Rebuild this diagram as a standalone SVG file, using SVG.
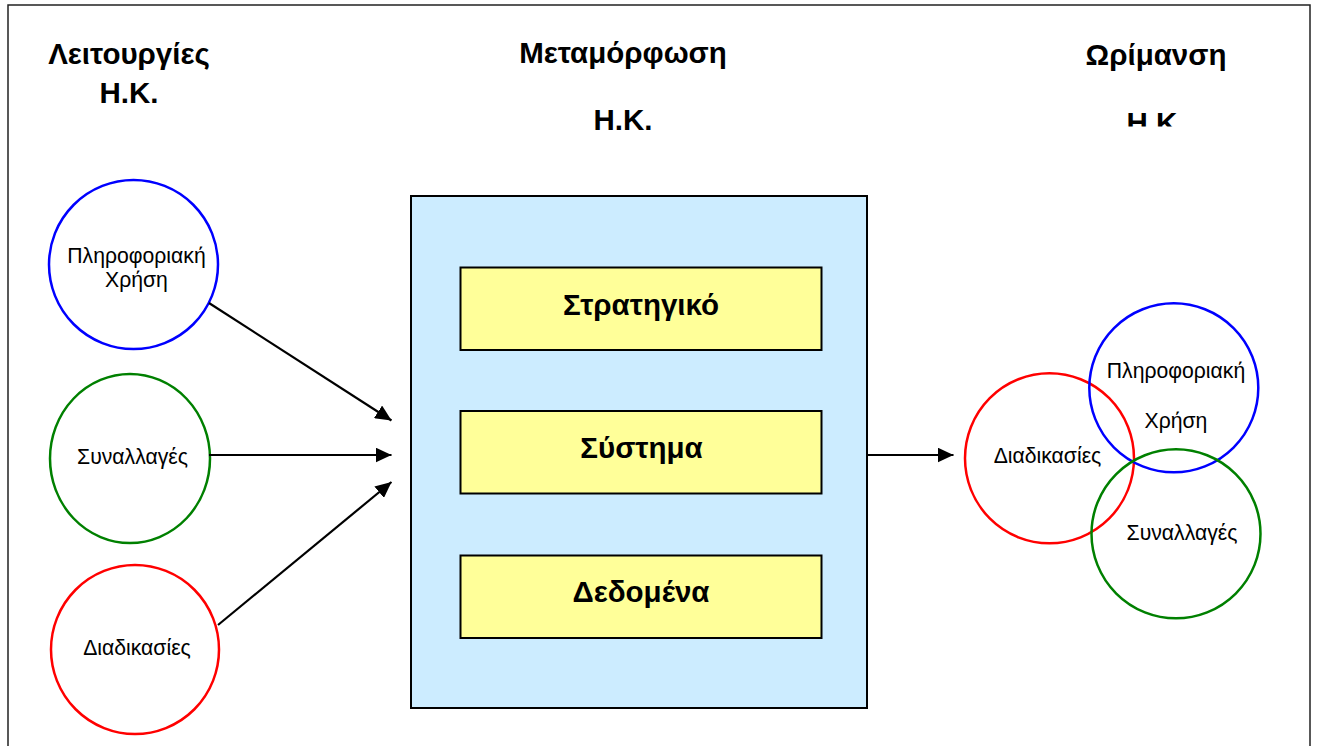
<svg xmlns="http://www.w3.org/2000/svg" width="1318" height="746" viewBox="0 0 1318 746">
<defs>
<style>
.title{font-family:"Liberation Sans",Arial,sans-serif;font-weight:bold;font-size:29.5px;fill:#000;text-anchor:middle}
.box{font-family:"Liberation Sans",Arial,sans-serif;font-weight:bold;font-size:29.5px;fill:#000;text-anchor:middle}
.lbl{font-family:"Liberation Sans",Arial,sans-serif;font-size:21.2px;fill:#000;text-anchor:middle}
.c{fill:none;stroke-width:2.5}
.blue{stroke:#0000FF}.green{stroke:#008000}.red{stroke:#FF0000}
.yel{fill:#FFFF99;stroke:#000;stroke-width:2}
.conn{stroke:#000;stroke-width:2.2;fill:none;marker-end:url(#ah)}
</style>
<marker id="ah" viewBox="0 0 16 15" refX="16" refY="7.5" markerWidth="16" markerHeight="15" markerUnits="userSpaceOnUse" orient="auto">
<path d="M0,0 L16,7.5 L0,15 Z" fill="#000"/>
</marker>
<clipPath id="clipHK"><rect x="1100" y="100" width="120" height="26.5"/></clipPath>
</defs>
<rect x="0" y="0" width="1318" height="746" fill="#FFFFFF"/>
<rect x="8" y="5" width="1302" height="760" fill="none" stroke="#222" stroke-width="1.5"/>

<g id="headings">
<text class="title" x="129" y="64">Λειτουργίες</text>
<text class="title" x="129" y="103">Η.Κ.</text>
<text class="title" x="623" y="63">Μεταμόρφωση</text>
<text class="title" x="623" y="130">Η.Κ.</text>
<text class="title" x="1156" y="65">Ωρίμανση</text>
<text class="title" x="1156" y="133" clip-path="url(#clipHK)">Η.Κ.</text>
</g>

<g id="left-info">
<ellipse class="c blue" cx="133.5" cy="264.5" rx="84.5" ry="84.5"/>
<text class="lbl" x="136.5" y="262.5">Πληροφοριακή</text>
<text class="lbl" x="136.5" y="286.5">Χρήση</text>
</g>
<g id="left-trans">
<ellipse class="c green" cx="130" cy="458.5" rx="80" ry="84.5"/>
<text class="lbl" x="132.5" y="463.5">Συναλλαγές</text>
</g>
<g id="left-proc">
<ellipse class="c red" cx="135" cy="649.5" rx="84" ry="84.5"/>
<text class="lbl" x="137" y="655">Διαδικασίες</text>
</g>

<g id="transform">
<rect x="411" y="196" width="456" height="512" fill="#CCECFF" stroke="#000" stroke-width="2"/>
</g>
<g id="strategic">
<rect class="yel" x="460.5" y="267.5" width="361" height="82.5"/>
<text class="box" x="641" y="315">Στρατηγικό</text>
</g>
<g id="system">
<rect class="yel" x="460.5" y="411" width="361" height="82.5"/>
<text class="box" x="641.5" y="458">Σύστημα</text>
</g>
<g id="data">
<rect class="yel" x="460.5" y="555.5" width="361" height="82.5"/>
<text class="box" x="641" y="602">Δεδομένα</text>
</g>

<g id="right-proc">
<ellipse class="c red" cx="1049.5" cy="458.3" rx="84.5" ry="85"/>
<text class="lbl" x="1047.5" y="463.3">Διαδικασίες</text>
</g>
<g id="right-info">
<ellipse class="c blue" cx="1173.8" cy="387.8" rx="84.5" ry="84.5"/>
<text class="lbl" x="1176" y="378">Πληροφοριακή</text>
<text class="lbl" x="1176" y="428.3">Χρήση</text>
</g>
<g id="right-trans">
<ellipse class="c green" cx="1176" cy="533.8" rx="84.5" ry="84.5"/>
<text class="lbl" x="1182" y="540">Συναλλαγές</text>
</g>

<g id="connectors">
<line class="conn" x1="209" y1="303" x2="391.5" y2="420.5"/>
<line class="conn" x1="209" y1="455" x2="391.5" y2="455"/>
<line class="conn" x1="218" y1="625" x2="391.5" y2="482"/>
<line class="conn" x1="867" y1="455" x2="953.5" y2="455"/>
</g>
</svg>
